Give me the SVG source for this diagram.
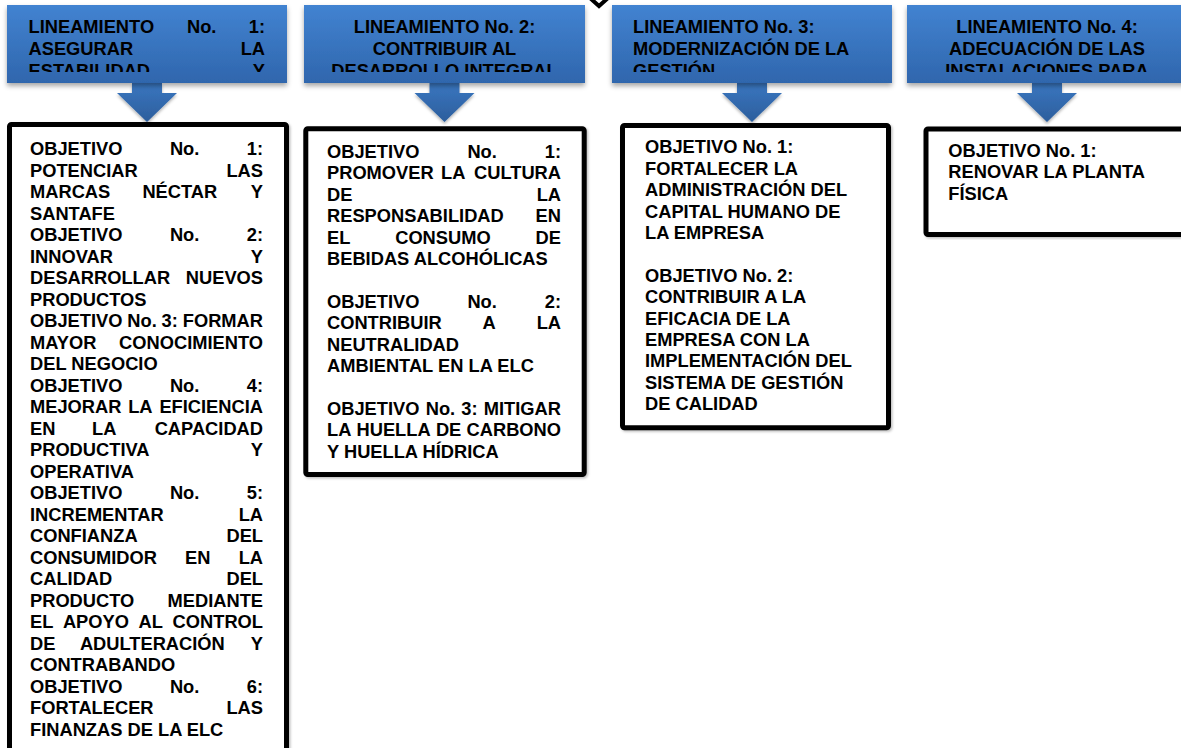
<svg xmlns="http://www.w3.org/2000/svg" width="1181" height="748" viewBox="0 0 1181 748">
<style>
.t{font-family:"Liberation Sans",Arial,sans-serif;font-weight:bold;font-size:18.3px;fill:#000}
.e{text-anchor:end}
.m{text-anchor:middle}
.hdr{fill:url(#gHdr);filter:url(#sh)}
.arr{fill:url(#gArr);filter:url(#sh2)}
.box{fill:#fff;stroke:#000;stroke-width:5;filter:url(#sh3)}
</style>
<defs>
<linearGradient id="gHdr" x1="0" y1="0" x2="0" y2="1">
<stop offset="0" stop-color="#4283d1"/>
<stop offset="1" stop-color="#2f66ad"/>
</linearGradient>
<linearGradient id="gArr" x1="0" y1="0" x2="0" y2="1">
<stop offset="0" stop-color="#3a76c0"/>
<stop offset="1" stop-color="#2c5e9c"/>
</linearGradient>
<filter id="sh" x="-10%" y="-10%" width="120%" height="140%">
<feDropShadow dx="0" dy="3" stdDeviation="2.5" flood-color="#000" flood-opacity="0.35"/>
</filter>
<filter id="sh2" x="-20%" y="-20%" width="140%" height="150%">
<feDropShadow dx="0" dy="2" stdDeviation="1.5" flood-color="#000" flood-opacity="0.3"/>
</filter>
<filter id="sh3" x="-5%" y="-5%" width="110%" height="110%">
<feDropShadow dx="1.5" dy="1.5" stdDeviation="1" flood-color="#000" flood-opacity="0.25"/>
</filter>
<clipPath id="c1"><rect x="7" y="5" width="280" height="67"/></clipPath>
<clipPath id="c2"><rect x="304" y="5" width="281" height="67"/></clipPath>
<clipPath id="c3"><rect x="612" y="5" width="280" height="67"/></clipPath>
<clipPath id="c4"><rect x="907" y="5" width="280" height="67"/></clipPath>
</defs>
<rect width="1181" height="748" fill="#fff"/>

<g id="top-mark">
<polyline points="590,-2 599,6 608,-2" fill="#fff" stroke="#000" stroke-width="4"/>
</g>

<g id="connectors">
<polygon class="arr" points="132,83 162,83 162,93 177,93 147,122 117,93 132,93"/>
<polygon class="arr" points="429.5,83 459.5,83 459.5,93 474.5,93 444.5,122 414.5,93 429.5,93"/>
<polygon class="arr" points="737,83 767,83 767,93 782,93 752,122 722,93 737,93"/>
<polygon class="arr" points="1032,83 1062,83 1062,93 1077,93 1047,122 1017,93 1032,93"/>
</g>

<g id="lineamiento1">
<rect class="hdr" x="7" y="5" width="280" height="78"/>
<g clip-path="url(#c1)">
<text class="t" y="33"><tspan x="28.5">LINEAMIENTO</tspan><tspan x="187">No.</tspan></text>
<text class="t e" x="265" y="33">1:</text>
<text class="t" x="28.5" y="55">ASEGURAR</text>
<text class="t e" x="265" y="55">LA</text>
<text class="t" x="28.5" y="77">ESTABILIDAD</text>
<text class="t e" x="265" y="77">Y</text>
</g>
</g>

<g id="lineamiento2">
<rect class="hdr" x="304" y="5" width="281" height="78"/>
<g clip-path="url(#c2)">
<text class="t m" x="444.5" y="33">LINEAMIENTO No. 2:</text>
<text class="t m" x="444.5" y="55">CONTRIBUIR AL</text>
<text class="t m" x="444.5" y="77">DESARROLLO INTEGRAL</text>
</g>
</g>

<g id="lineamiento3">
<rect class="hdr" x="612" y="5" width="280" height="78"/>
<g clip-path="url(#c3)">
<text class="t" x="633" y="33">LINEAMIENTO No. 3:</text>
<text class="t" x="633" y="55">MODERNIZACIÓN DE LA</text>
<text class="t" x="633" y="77">GESTIÓN</text>
</g>
</g>

<g id="lineamiento4">
<rect class="hdr" x="907" y="5" width="280" height="78"/>
<g clip-path="url(#c4)">
<text class="t m" x="1047" y="33">LINEAMIENTO No. 4:</text>
<text class="t m" x="1047" y="55">ADECUACIÓN DE LAS</text>
<text class="t m" x="1047" y="77">INSTALACIONES PARA</text>
</g>
</g>

<g id="objetivos1">
<rect class="box" x="9.5" y="124.5" width="277" height="640" rx="2"/>
<text class="t" y="155"><tspan x="30">OBJETIVO</tspan><tspan x="169.9">No.</tspan></text><text class="t e" x="263" y="155">1:</text>
<text class="t" x="30" y="176.5">POTENCIAR</text><text class="t e" x="263" y="176.5">LAS</text>
<text class="t" y="198"><tspan x="30">MARCAS</tspan><tspan x="142.4">NÉCTAR</tspan></text><text class="t e" x="263" y="198">Y</text>
<text class="t" x="30" y="219.5">SANTAFE</text>
<text class="t" y="241"><tspan x="30">OBJETIVO</tspan><tspan x="169.9">No.</tspan></text><text class="t e" x="263" y="241">2:</text>
<text class="t" x="30" y="262.5">INNOVAR</text><text class="t e" x="263" y="262.5">Y</text>
<text class="t" x="30" y="284">DESARROLLAR</text><text class="t e" x="263" y="284">NUEVOS</text>
<text class="t" x="30" y="305.5">PRODUCTOS</text>
<text class="t" y="327"><tspan x="30">OBJETIVO</tspan><tspan x="127.3">No.</tspan><tspan x="161.6">3:</tspan></text><text class="t e" x="263" y="327">FORMAR</text>
<text class="t" x="30" y="348.5">MAYOR</text><text class="t e" x="263" y="348.5">CONOCIMIENTO</text>
<text class="t" x="30" y="370">DEL NEGOCIO</text>
<text class="t" y="391.5"><tspan x="30">OBJETIVO</tspan><tspan x="169.9">No.</tspan></text><text class="t e" x="263" y="391.5">4:</text>
<text class="t" y="413"><tspan x="30">MEJORAR</tspan><tspan x="128.2">LA</tspan></text><text class="t e" x="263" y="413">EFICIENCIA</text>
<text class="t" y="434.5"><tspan x="30">EN</tspan><tspan x="92.1">LA</tspan></text><text class="t e" x="263" y="434.5">CAPACIDAD</text>
<text class="t" x="30" y="456">PRODUCTIVA</text><text class="t e" x="263" y="456">Y</text>
<text class="t" x="30" y="477.5">OPERATIVA</text>
<text class="t" y="499"><tspan x="30">OBJETIVO</tspan><tspan x="169.9">No.</tspan></text><text class="t e" x="263" y="499">5:</text>
<text class="t" x="30" y="520.5">INCREMENTAR</text><text class="t e" x="263" y="520.5">LA</text>
<text class="t" x="30" y="542">CONFIANZA</text><text class="t e" x="263" y="542">DEL</text>
<text class="t" y="563.5"><tspan x="30">CONSUMIDOR</tspan><tspan x="185.1">EN</tspan></text><text class="t e" x="263" y="563.5">LA</text>
<text class="t" x="30" y="585">CALIDAD</text><text class="t e" x="263" y="585">DEL</text>
<text class="t" x="30" y="606.5">PRODUCTO</text><text class="t e" x="263" y="606.5">MEDIANTE</text>
<text class="t" y="628"><tspan x="30">EL</tspan><tspan x="62.9">APOYO</tspan><tspan x="138.6">AL</tspan></text><text class="t e" x="263" y="628">CONTROL</text>
<text class="t" y="649.5"><tspan x="30">DE</tspan><tspan x="79.9">ADULTERACIÓN</tspan></text><text class="t e" x="263" y="649.5">Y</text>
<text class="t" x="30" y="671">CONTRABANDO</text>
<text class="t" y="692.5"><tspan x="30">OBJETIVO</tspan><tspan x="169.9">No.</tspan></text><text class="t e" x="263" y="692.5">6:</text>
<text class="t" x="30" y="714">FORTALECER</text><text class="t e" x="263" y="714">LAS</text>
<text class="t" x="30" y="735.5">FINANZAS DE LA ELC</text>
</g>

<g id="objetivos2">
<rect class="box" x="305.8" y="128.8" width="278.4" height="345.7" rx="2"/>
<text class="t" y="158"><tspan x="327">OBJETIVO</tspan><tspan x="467.4">No.</tspan></text><text class="t e" x="561" y="158">1:</text>
<text class="t" y="179.4"><tspan x="327">PROMOVER</tspan><tspan x="441">LA</tspan></text><text class="t e" x="561" y="179.4">CULTURA</text>
<text class="t" x="327" y="200.8">DE</text><text class="t e" x="561" y="200.8">LA</text>
<text class="t" x="327" y="222.2">RESPONSABILIDAD</text><text class="t e" x="561" y="222.2">EN</text>
<text class="t" y="243.6"><tspan x="327">EL</tspan><tspan x="395.2">CONSUMO</tspan></text><text class="t e" x="561" y="243.6">DE</text>
<text class="t" x="327" y="265">BEBIDAS ALCOHÓLICAS</text>
<text class="t" y="307.8"><tspan x="327">OBJETIVO</tspan><tspan x="467.4">No.</tspan></text><text class="t e" x="561" y="307.8">2:</text>
<text class="t" y="329.2"><tspan x="327">CONTRIBUIR</tspan><tspan x="482.6">A</tspan></text><text class="t e" x="561" y="329.2">LA</text>
<text class="t" x="327" y="350.6">NEUTRALIDAD</text>
<text class="t" x="327" y="372">AMBIENTAL EN LA ELC</text>
<text class="t" y="414.8"><tspan x="327">OBJETIVO</tspan><tspan x="425.7">No.</tspan><tspan x="461.3">3:</tspan></text><text class="t e" x="561" y="414.8">MITIGAR</text>
<text class="t" y="436.2"><tspan x="327">LA</tspan><tspan x="356.5">HUELLA</tspan><tspan x="435.9">DE</tspan></text><text class="t e" x="561" y="436.2">CARBONO</text>
<text class="t" x="327" y="457.6">Y HUELLA HÍDRICA</text>
</g>

<g id="objetivos3">
<rect class="box" x="622.5" y="125.5" width="266" height="302.3" rx="2"/>
<text class="t" x="645" y="153.3">OBJETIVO No. 1:</text>
<text class="t" x="645" y="174.7">FORTALECER LA</text>
<text class="t" x="645" y="196.1">ADMINISTRACIÓN DEL</text>
<text class="t" x="645" y="217.5">CAPITAL HUMANO DE</text>
<text class="t" x="645" y="238.9">LA EMPRESA</text>
<text class="t" x="645" y="281.7">OBJETIVO No. 2:</text>
<text class="t" x="645" y="303.1">CONTRIBUIR A LA</text>
<text class="t" x="645" y="324.5">EFICACIA DE LA</text>
<text class="t" x="645" y="345.9">EMPRESA CON LA</text>
<text class="t" x="645" y="367.3">IMPLEMENTACIÓN DEL</text>
<text class="t" x="645" y="388.7">SISTEMA DE GESTIÓN</text>
<text class="t" x="645" y="410.1">DE CALIDAD</text>
</g>

<g id="objetivos4">
<rect class="box" x="926" y="129" width="270" height="105.5" rx="2"/>
<text class="t" x="948.3" y="157">OBJETIVO No. 1:</text>
<text class="t" x="948.3" y="178.4">RENOVAR LA PLANTA</text>
<text class="t" x="948.3" y="199.8">FÍSICA</text>
</g>
</svg>
